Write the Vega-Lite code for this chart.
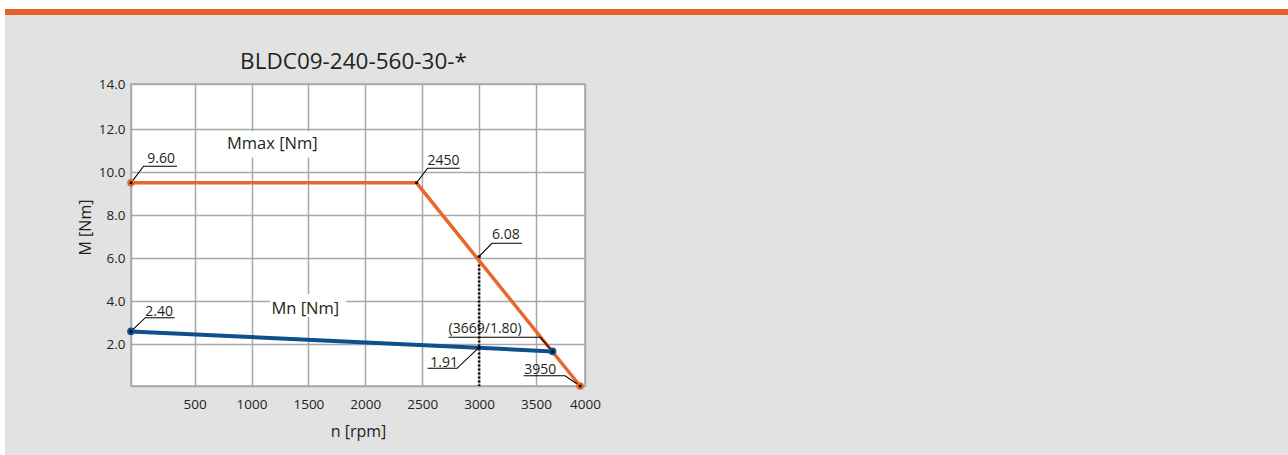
{
  "$schema": "https://vega.github.io/schema/vega-lite/v6.json",
  "background": "#e2e2e2",
  "padding": 0,
  "spacing": 0,
  "bounds": "flush",
  "config": {
    "view": {"stroke": null},
    "font": "Open Sans",
    "concat": {"spacing": 0},
    "axis": {
      "labelFont": "Open Sans",
      "labelFontSize": 13.5,
      "labelColor": "#231f20",
      "titleFont": "Open Sans",
      "titleFontSize": 16,
      "titleFontWeight": "normal",
      "titleColor": "#231f20",
      "gridColor": "#a8a8a8",
      "gridWidth": 1.5,
      "gridOpacity": 1,
      "domainColor": "#a8a8a8",
      "domainWidth": 1.5,
      "ticks": false
    },
    "axisX": {"labelPadding": 11, "titlePadding": 13},
    "axisY": {"labelPadding": 6, "titlePadding": 5}
  },
  "datasets": {
    "curves": [
      {"series": "Mn", "n": 0, "M": 2.6},
      {"series": "Mn", "n": 3669, "M": 1.66},
      {"series": "Mmax", "n": 0, "M": 9.5},
      {"series": "Mmax", "n": 2450, "M": 9.5},
      {"series": "Mmax", "n": 3950, "M": 0}
    ],
    "ends": [
      {"series": "Mmax", "n": 0, "M": 9.5},
      {"series": "Mmax", "n": 3950, "M": 0},
      {"series": "Mn", "n": 0, "M": 2.6},
      {"series": "Mn", "n": 3669, "M": 1.66}
    ],
    "dots": [
      {"n": 0, "M": 9.5},
      {"n": 2450, "M": 9.5},
      {"n": 3000, "M": 6.08},
      {"n": 3669, "M": 1.66},
      {"n": 3000, "M": 1.85},
      {"n": 3950, "M": 0},
      {"n": 0, "M": 2.6}
    ],
    "dotted": [{"n": 3000, "M": 6.08, "M2": 0}],
    "leaders": [
      {"label": "9.60", "k": 0, "n": 0, "M": 9.5},
      {"label": "9.60", "k": 1, "n": 99, "M": 10.27},
      {"label": "9.60", "k": 2, "n": 362, "M": 10.27},
      {"label": "2450", "k": 0, "n": 2450, "M": 9.5},
      {"label": "2450", "k": 1, "n": 2547, "M": 10.175},
      {"label": "2450", "k": 2, "n": 2829, "M": 10.175},
      {"label": "6.08", "k": 0, "n": 3000, "M": 6.08},
      {"label": "6.08", "k": 1, "n": 3113, "M": 6.69},
      {"label": "6.08", "k": 2, "n": 3377, "M": 6.69},
      {"label": "(3669/1.80)", "k": 0, "n": 3669, "M": 1.66},
      {"label": "(3669/1.80)", "k": 1, "n": 3544, "M": 2.325},
      {"label": "(3669/1.80)", "k": 2, "n": 2732, "M": 2.325},
      {"label": "1.91", "k": 0, "n": 3000, "M": 1.85},
      {"label": "1.91", "k": 1, "n": 2806, "M": 0.849},
      {"label": "1.91", "k": 2, "n": 2547, "M": 0.849},
      {"label": "3950", "k": 0, "n": 3950, "M": 0},
      {"label": "3950", "k": 1, "n": 3797, "M": 0.494},
      {"label": "3950", "k": 2, "n": 3391, "M": 0.494},
      {"label": "2.40", "k": 0, "n": 0, "M": 2.6},
      {"label": "2.40", "k": 1, "n": 112, "M": 3.235},
      {"label": "2.40", "k": 2, "n": 343, "M": 3.235}
    ],
    "numLabels": [
      {"text": "9.60", "n": 128, "M": 10.41},
      {"text": "2450", "n": 2547, "M": 10.33},
      {"text": "6.08", "n": 3113, "M": 6.88},
      {"text": "(3669/1.80)", "n": 2732, "M": 2.51},
      {"text": "1.91", "n": 2571, "M": 0.935},
      {"text": "3950", "n": 3397, "M": 0.575},
      {"text": "2.40", "n": 112, "M": 3.33}
    ],
    "curveLabels": [
      {"text": "Mmax [Nm]", "n": 1183, "M": 11.06},
      {"text": "Mn [Nm]", "n": 1473, "M": 3.41}
    ],
    "labelBoxes": [
      {"n": 761, "n2": 1605, "M": 11.9, "M2": 10.68},
      {"n": 1165, "n2": 1833, "M": 4.34, "M2": 3.28}
    ]
  },
  "hconcat": [
    {
      "width": 5, "height": 455,
      "view": {"fill": "#ffffff", "stroke": null},
      "data": {"values": []},
      "mark": "rect",
      "encoding": {}
    },
    {
      "spacing": 0,
      "bounds": "flush",
      "vconcat": [
        {
          "width": 1283, "height": 9,
          "view": {"fill": "#ffffff", "stroke": null},
          "data": {"values": []},
          "mark": "rect",
          "encoding": {}
        },
        {
          "width": 1283, "height": 6,
          "view": {"fill": "#e5632a", "stroke": null},
          "data": {"values": []},
          "mark": "rect",
          "encoding": {}
        },
        {
          "width": 1283, "height": 69,
          "data": {"values": []},
          "mark": "rect",
          "encoding": {}
        },
        {
          "spacing": 0,
          "bounds": "flush",
          "hconcat": [
            {
              "width": 126, "height": 302,
              "data": {"values": []},
              "mark": "rect",
              "encoding": {}
            },
            {
              "width": 454,
              "height": 302,
              "view": {"fill": "#ffffff", "stroke": "#a8a8a8", "strokeWidth": 1.5},
              "title": {
                "text": "BLDC09-240-560-30-*",
                "font": "Open Sans",
                "fontSize": 22.5,
                "fontWeight": "normal",
                "color": "#231f20",
                "baseline": "alphabetic",
                "frame": "group",
                "offset": 17,
                "anchor": "middle",
                "dx": -4.5,
                "dy": 31
              },
              "encoding": {
                "x": {
                  "field": "n", "type": "quantitative", "title": "n [rpm]",
                  "scale": {"type": "linear", "domain": [0, 500, 3500, 4000], "range": [0, 63.6, 405, 454], "nice": false, "zero": false},
                  "axis": {"values": [500, 1000, 1500, 2000, 2500, 3000, 3500, 4000], "format": "d", "labelFlush": false, "labelOverlap": false, "grid": true}
                },
                "y": {
                  "field": "M", "type": "quantitative", "title": "M [Nm]",
                  "scale": {"type": "linear", "domain": [0, 2, 12, 14], "range": [302, 260.3, 45, 0], "nice": false, "zero": false},
                  "axis": {"values": [2, 4, 6, 8, 10, 12, 14], "format": ".1f", "labelOverlap": false, "grid": true, "titleY": 143}
                }
              },
              "layer": [
                {
                  "data": {"name": "labelBoxes"},
                  "mark": {"type": "rect", "color": "#ffffff", "opacity": 1},
                  "encoding": {"x2": {"field": "n2"}, "y2": {"field": "M2"}}
                },
                {
                  "data": {"name": "dotted"},
                  "mark": {"type": "rule", "color": "#000000", "strokeWidth": 2.5, "strokeDash": [2, 2]},
                  "encoding": {"y2": {"field": "M2"}}
                },
                {
                  "data": {"name": "curves"},
                  "transform": [{"filter": "datum.series === 'Mn'"}],
                  "mark": {"type": "line", "color": "#0f4f8c", "strokeWidth": 4},
                  "encoding": {}
                },
                {
                  "data": {"name": "curves"},
                  "transform": [{"filter": "datum.series === 'Mmax'"}],
                  "mark": {"type": "line", "color": "#e8672a", "strokeWidth": 3.5},
                  "encoding": {}
                },
                {
                  "data": {"name": "leaders"},
                  "mark": {"type": "line", "color": "#000000", "strokeWidth": 1.1},
                  "encoding": {
                    "detail": {"field": "label"},
                    "order": {"field": "k", "type": "quantitative"}
                  }
                },
                {
                  "data": {"name": "ends"},
                  "mark": {"type": "point", "filled": true, "opacity": 1, "size": 58},
                  "encoding": {
                    "color": {
                      "field": "series", "type": "nominal", "legend": null,
                      "scale": {"domain": ["Mmax", "Mn"], "range": ["#e8672a", "#0f4f8c"]}
                    }
                  }
                },
                {
                  "data": {"name": "dots"},
                  "mark": {"type": "point", "filled": true, "opacity": 1, "size": 9, "color": "#000000"},
                  "encoding": {}
                },
                {
                  "data": {"name": "numLabels"},
                  "mark": {"type": "text", "align": "left", "baseline": "alphabetic", "font": "Open Sans", "fontSize": 14, "color": "#231f20"},
                  "encoding": {"text": {"field": "text"}}
                },
                {
                  "data": {"name": "curveLabels"},
                  "mark": {"type": "text", "align": "center", "baseline": "alphabetic", "font": "Open Sans", "fontSize": 16.5, "color": "#231f20"},
                  "encoding": {"text": {"field": "text"}}
                }
              ]
            }
          ]
        },
        {
          "width": 1283, "height": 69,
          "data": {"values": []},
          "mark": "rect",
          "encoding": {}
        }
      ]
    }
  ]
}
